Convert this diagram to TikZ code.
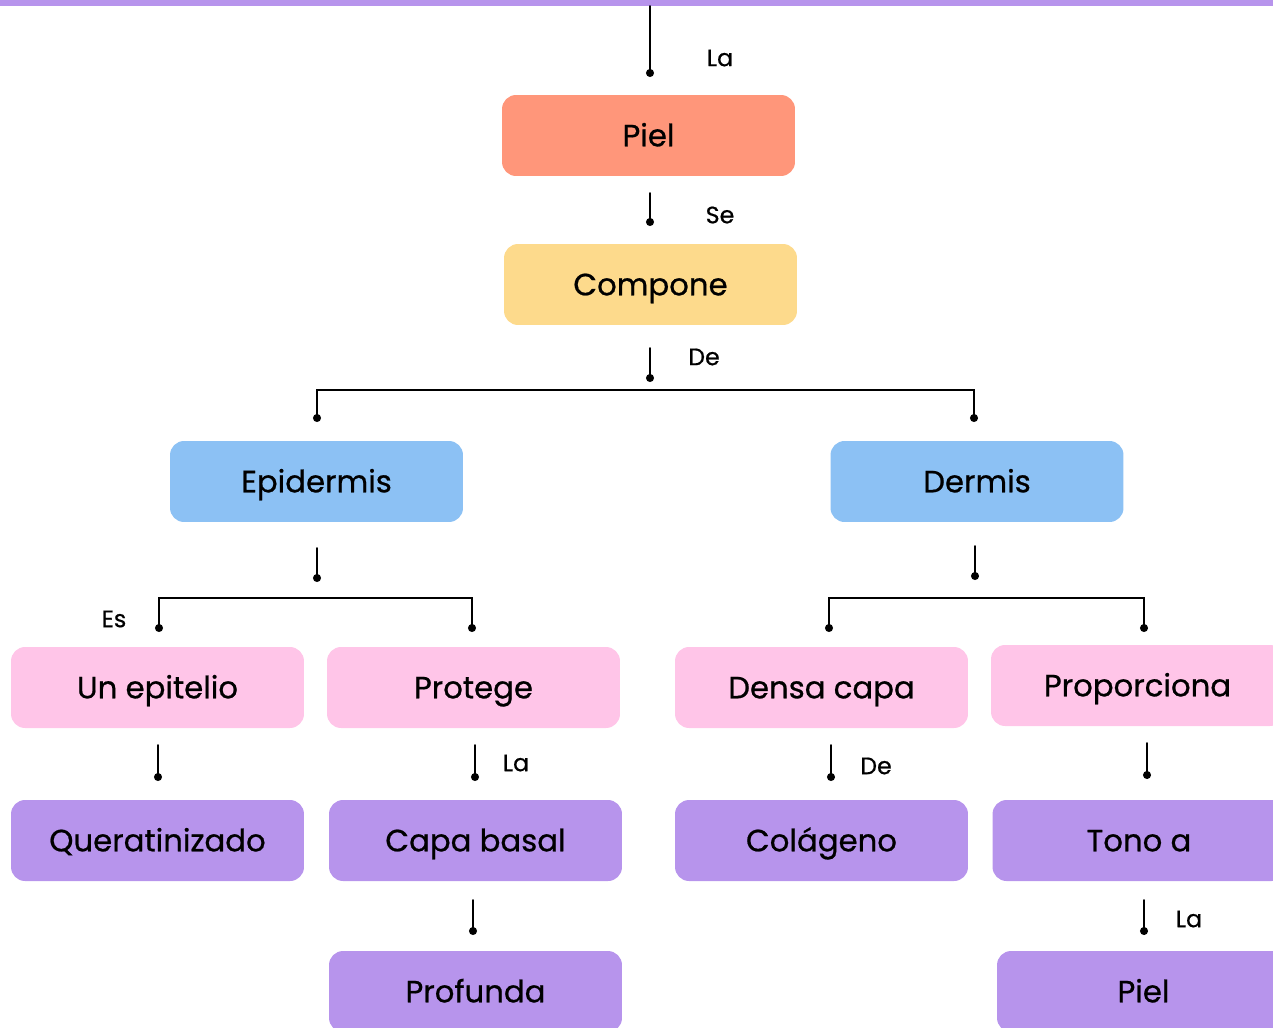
\documentclass[tikz,border=0pt]{standalone}
\usepackage{fontspec}
\setmainfont{Poppins}[FakeBold=0.7]
\usepackage{tikz}
\usetikzlibrary{positioning}
\definecolor{BarPurple}{RGB}{183,148,236}
\definecolor{Salmon}{RGB}{255,150,122}
\definecolor{Butter}{RGB}{253,218,140}
\definecolor{SkyBlue}{RGB}{140,193,244}
\definecolor{Blush}{RGB}{255,197,232}
\definecolor{Lilac}{RGB}{183,148,236}

\tikzset{
  box/.style={rectangle,rounded corners=0.28cm,minimum width=5.86cm,minimum height=1.62cm,inner sep=0pt,text height=14pt,text depth=1.7pt,font=\fontsize{17.5}{21}\selectfont},
  link/.style={line width=1.1pt,line cap=round},
  lbl/.style={font=\fontsize{13.5}{16}\selectfont}
}

\begin{document}
\begin{tikzpicture}[x=0.02cm,y=-0.02cm]
\useasboundingbox (0,0) rectangle (1273,1027);
\clip (0,0) rectangle (1273,1027);
\fill[BarPurple] (0,0) rectangle (1273,6);
% boxes
\node[box,fill=Salmon] (piel) at (648.5,135.5) {Piel};
\node[box,fill=Butter] (compone) at (650.5,284.5) {Compone};
\node[box,fill=SkyBlue] (epidermis) at (316.5,481.5) {Epidermis};
\node[box,fill=SkyBlue] (dermis) at (977,481.5) {Dermis};
\node[box,fill=Blush] (epitelio) at (157.5,687.5) {Un epitelio};
\node[box,fill=Blush] (protege) at (473.5,687.5) {Protege};
\node[box,fill=Blush] (densa) at (821.5,687.5) {Densa capa};
\node[box,fill=Blush] (proporciona) at (1137.5,685.5) {Proporciona};
\node[box,fill=Lilac] (querat) at (157.5,840.5) {Queratinizado};
\node[box,fill=Lilac] (basal) at (475.5,840.5) {Capa basal};
\node[box,fill=Lilac] (colageno) at (821.5,840.5) {Colágeno};
\node[box,fill=Lilac] (tono) at (1139,840.5) {Tono a};
\node[box,fill=Lilac] (profunda) at (475.5,991.5) {Profunda};
\node[box,fill=Lilac] (pielb) at (1143.5,991.5) {Piel};
% stub ends
\coordinate (s1a) at (650,6);    \coordinate (s1b) at (650,73);
\coordinate (s2a) at (650,193);  \coordinate (s2b) at (650,222);
\coordinate (s3a) at (650,348);  \coordinate (s3b) at (650,378);
\coordinate (t1) at (317,418);   \coordinate (t2) at (974,418);
\coordinate (s4a) at (317,548);  \coordinate (s4b) at (317,578);
\coordinate (t3) at (159,628);   \coordinate (t4) at (472,628);
\coordinate (s5a) at (975,546);  \coordinate (s5b) at (975,576);
\coordinate (t5) at (829,628);   \coordinate (t6) at (1144,628);
\coordinate (s6a) at (158,745);  \coordinate (s6b) at (158,777);
\coordinate (s7a) at (475,745);  \coordinate (s7b) at (475,777);
\coordinate (s8a) at (831,745);  \coordinate (s8b) at (831,777);
\coordinate (s9a) at (1147,743); \coordinate (s9b) at (1147,775);
\coordinate (s10a) at (473,900); \coordinate (s10b) at (473,931);
\coordinate (s11a) at (1144,900);\coordinate (s11b) at (1144,931);
% connectors
\foreach \a/\b in {s1a/s1b,s2a/s2b,s3a/s3b,s4a/s4b,s5a/s5b,s6a/s6b,s7a/s7b,s8a/s8b,s9a/s9b,s10a/s10b,s11a/s11b}
\draw[link] (\a) -- (\b);
\draw[link] (t1) |- (974,390) -- (t2);
\draw[link] (t3) |- (472,598) -- (t4);
\draw[link] (t5) |- (1144,598) -- (t6);
\foreach \p in {s1b,s2b,s3b,s4b,s5b,s6b,s7b,s8b,s9b,s10b,s11b,t1,t2,t3,t4,t5,t6}
\fill (\p) circle (2.3pt);
% labels
\node[lbl] (la1) at (720,58) {La};
\node[lbl] (se) at (720,215) {Se};
\node[lbl] (de1) at (704,357) {De};
\node[lbl] (es) at (114,619) {Es};
\node[lbl] (la2) at (516,763) {La};
\node[lbl] (de2) at (876,766) {De};
\node[lbl] (la3) at (1189,919) {La};
\end{tikzpicture}
\end{document}
